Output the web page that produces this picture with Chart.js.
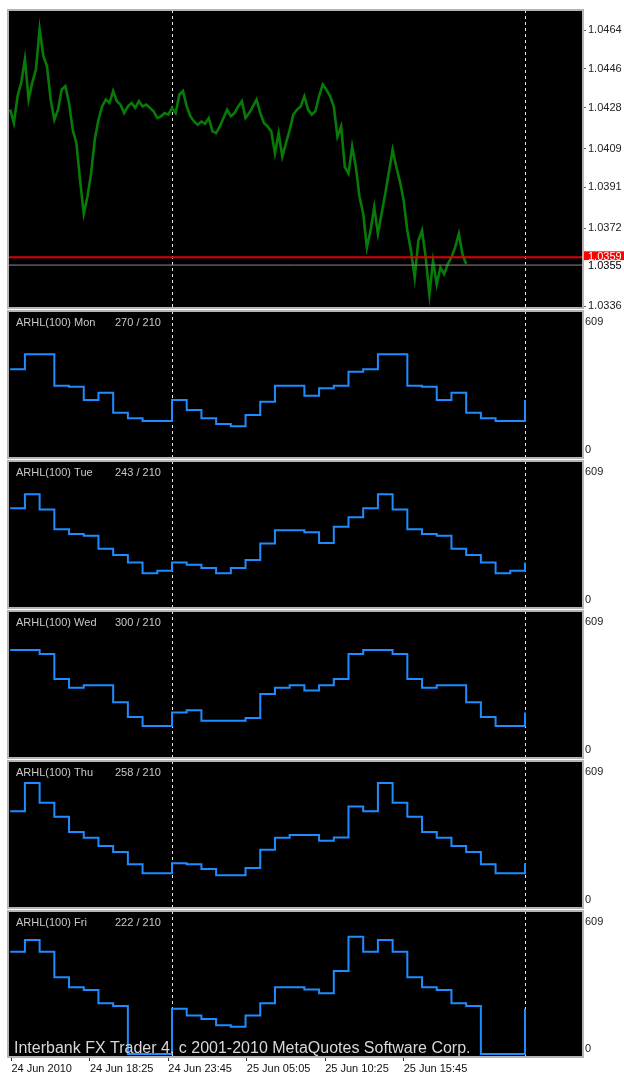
<!DOCTYPE html>
<html>
<head>
<meta charset="utf-8">
<script src="https://cdn.jsdelivr.net/npm/chart.js@4.4.0/dist/chart.umd.min.js"></script>
<style>
  body { margin: 0; background: #fff; }
  #wrap { position: relative; width: 624px; height: 1074px; overflow: hidden; }
  #wrap canvas { position: absolute; left: 0; }
</style>
</head>
<body>
<div id="wrap"></div>
<script>
// ARHL(100) hour-of-day profile for each weekday, hour 0..23
const arhlMon = [238, 194, 159, 134, 124, 173, 230, 299, 299, 256, 288, 299, 360, 370, 435, 435, 299, 295, 238, 269, 183, 159, 147, 147];
const arhlTue = [184, 174, 160, 137, 160, 194, 266, 323, 323, 314, 268, 338, 379, 418, 478, 413, 327, 307, 299, 243, 216, 184, 137, 148];
const arhlWed = [184, 193, 148, 148, 148, 160, 263, 291, 301, 279, 301, 328, 436, 453, 453, 436, 328, 291, 301, 301, 228, 164, 125, 125];
const arhlThu = [180, 176, 155, 128, 128, 160, 239, 291, 302, 302, 278, 292, 425, 405, 527, 442, 381, 315, 291, 255, 229, 176, 137, 137];
const arhlFri = [197, 168, 152, 125, 119, 168, 221, 290, 290, 281, 264, 361, 510, 445, 496, 445, 334, 290, 278, 221, 209, 0, 0, 0];

const dayNames = ['Mon', 'Tue', 'Wed', 'Thu', 'Fri'];
const currentValues = [270, 243, 300, 258, 222];
const levelValue = 210;
const arhlMax = 609;
const subTickLabels = ['609', '0'];

// price, one reading every 15 minutes from 24 Jun 13:00
const priceStartHour = 13;
const priceStepHours = 0.25;
const prices = [
  1.04271, 1.04209, 1.04333, 1.04396, 1.04505, 1.04318, 1.04396, 1.04458, 1.04645, 1.04520,
  1.04473, 1.04318, 1.04224, 1.04271, 1.04364, 1.04380, 1.04302, 1.04177, 1.04115, 1.03944,
  1.03788, 1.03866, 1.03975, 1.04131, 1.04224, 1.04286, 1.04318, 1.04302, 1.04357, 1.04310,
  1.04294, 1.04255, 1.04286, 1.04302, 1.04279, 1.04310, 1.04286, 1.04294, 1.04279, 1.04263,
  1.04232, 1.04240, 1.04255, 1.04248, 1.04279, 1.04255, 1.04341, 1.04357, 1.04286, 1.04240,
  1.04216, 1.04201, 1.04216, 1.04206, 1.04232, 1.04170, 1.04162, 1.04193, 1.04232, 1.04271,
  1.04240, 1.04255, 1.04286, 1.04310, 1.04232, 1.04255, 1.04286, 1.04318, 1.04255, 1.04209,
  1.04193, 1.04170, 1.04068, 1.04162, 1.04053, 1.04115, 1.04177, 1.04248, 1.04271, 1.04286,
  1.04333, 1.04271, 1.04248, 1.04263, 1.04333, 1.04388, 1.04364, 1.04333, 1.04286, 1.04146,
  1.04193, 1.04006, 1.03975, 1.04100, 1.04006, 1.03866, 1.03788, 1.03632, 1.03710, 1.03819,
  1.03695, 1.03788, 1.03882, 1.03983, 1.04084, 1.04006, 1.03936, 1.03850, 1.03710, 1.03617,
  1.03492, 1.03664, 1.03710, 1.03586, 1.03414, 1.03570, 1.03461, 1.03539, 1.03508, 1.03555,
  1.03586, 1.03632, 1.03695, 1.03601, 1.03555
];
const priceTicks = [1.0464, 1.0446, 1.0428, 1.0409, 1.0391, 1.0372, 1.0336];
const priceMin = 1.03351, priceMax = 1.04733;
const askLine = 1.03586, bidLine = 1.0355;
const askLabel = '1.0359', bidLabel = '1.0355';

// time axis, hours counted from 24 Jun 00:00
const xMin = 12.85, xMax = 51.944;
const firstHour = 13, lastHour = 48;
const daySeparators = [24, 48];
const timeTicks = [13.0833, 18.4167, 23.75, 29.0833, 34.4167, 39.75];
const timeLabels = ['24 Jun 2010', '24 Jun 18:25', '24 Jun 23:45', '25 Jun 05:05', '25 Jun 10:25', '25 Jun 15:45'];

const watermark = 'Interbank FX Trader 4, c 2001-2010 MetaQuotes Software Corp.';

const FONT = '"Liberation Sans", Arial, sans-serif';
const axisFont = { family: FONT, size: 11 };

// black plot area, frame and dashed day separators
const panelPlugin = {
  id: 'panel',
  beforeDraw(chart) {
    const a = chart.chartArea, ctx = chart.ctx;
    ctx.save();
    ctx.fillStyle = '#000';
    ctx.fillRect(a.left, a.top, a.right - a.left, a.bottom - a.top);
    ctx.restore();
  },
  beforeDatasetsDraw(chart) {
    const a = chart.chartArea, ctx = chart.ctx, xs = chart.scales.x;
    ctx.save();
    ctx.strokeStyle = '#e8e8e8';
    ctx.lineWidth = 1;
    ctx.setLineDash([3, 3]);
    daySeparators.forEach(h => {
      const px = Math.round(xs.getPixelForValue(h)) + 0.5;
      ctx.beginPath();
      ctx.moveTo(px, a.top);
      ctx.lineTo(px, a.bottom);
      ctx.stroke();
    });
    ctx.restore();
  },
  afterDraw(chart) {
    const a = chart.chartArea, ctx = chart.ctx;
    const o = chart.options.plugins.panel || {};
    ctx.save();
    if (o.title) {
      ctx.font = '11px ' + FONT;
      ctx.fillStyle = '#c8c8c8';
      ctx.textBaseline = 'middle';
      ctx.fillText(o.title, 16, a.top + 12);
      ctx.fillText(o.value, 115, a.top + 12);
    }
    if (o.watermark) {
      ctx.font = '16px ' + FONT;
      ctx.fillStyle = '#d8d8d8';
      ctx.textBaseline = 'alphabetic';
      ctx.fillText(o.watermark, 14, a.bottom - 4);
    }
    if (o.priceLabels) {
      const ys = chart.scales.y;
      ctx.font = '11px ' + FONT;
      ctx.textBaseline = 'middle';
      let py = ys.getPixelForValue(askLine);
      ctx.fillStyle = '#ff0000';
      ctx.fillRect(a.right + 1, py - 6, 41, 11);
      ctx.fillStyle = '#fff';
      ctx.fillText(askLabel, a.right + 5, py);
      py = ys.getPixelForValue(bidLine);
      ctx.fillStyle = '#fff';
      ctx.fillRect(a.right + 1, py - 5, 41, 12);
      ctx.fillStyle = '#000';
      ctx.fillText(bidLabel, a.right + 5, py + 1);
    }
    ctx.strokeStyle = '#b4b4b4';
    ctx.lineWidth = 2;
    ctx.setLineDash([]);
    ctx.strokeRect(a.left, a.top, a.right - a.left, a.bottom - a.top);
    ctx.restore();
  }
};

const makeCanvas = (top, height) => {
  const c = document.createElement('canvas');
  c.width = 624;
  c.height = height;
  c.style.top = top + 'px';
  document.getElementById('wrap').appendChild(c);
  return c;
};

const hiddenX = { type: 'linear', min: xMin, max: xMax, display: false };

// main price panel
const mainCanvas = makeCanvas(0, 318);
new Chart(mainCanvas, {
  type: 'line',
  plugins: [panelPlugin],
  data: {
    datasets: [
      { data: [{ x: xMin, y: askLine }, { x: xMax, y: askLine }], borderColor: '#e00000', borderWidth: 2, pointRadius: 0 },
      { data: [{ x: xMin, y: bidLine }, { x: xMax, y: bidLine }], borderColor: '#8a8a8a', borderWidth: 1, pointRadius: 0 },
      {
        data: prices.map((p, i) => ({ x: priceStartHour + i * priceStepHours, y: p })),
        borderColor: '#077a07', borderWidth: 2.6, pointRadius: 0, tension: 0
      }
    ]
  },
  options: {
    responsive: false, animation: false, devicePixelRatio: 1,
    layout: { padding: { left: 8, top: 10, bottom: 10, right: 0 } },
    plugins: { legend: { display: false }, tooltip: { enabled: false }, panel: { priceLabels: true } },
    scales: {
      x: hiddenX,
      y: {
        position: 'right', min: priceMin, max: priceMax,
        afterBuildTicks: s => { s.ticks = priceTicks.map(v => ({ value: v })); },
        afterFit: s => { s.width = 41; },
        ticks: { callback: v => v.toFixed(4), color: '#222', font: axisFont, padding: 2, autoSkip: false },
        grid: { drawOnChartArea: false, tickLength: 3, color: '#666' },
        border: { display: false }
      }
    }
  }
});

// ARHL sub panels
const panels = [
  { top: 311, bottom: 458, data: arhlMon },
  { top: 461, bottom: 608, data: arhlTue },
  { top: 611, bottom: 758, data: arhlWed },
  { top: 761, bottom: 908, data: arhlThu },
  { top: 911, bottom: 1057, data: arhlFri }
];

panels.forEach((p, k) => {
  const last = k === panels.length - 1;
  const h = p.bottom - p.top;
  const ppu = (h - 6) / arhlMax;
  const yMin = -3 / ppu, yMax = arhlMax + 3 / ppu;
  const canvasTop = p.top - 10;
  const canvasH = last ? 1074 - canvasTop : h + 20;
  const pts = [];
  for (let t = firstHour; t <= lastHour; t++) pts.push({ x: t, y: p.data[t % 24] });

  const xScale = last ? {
    type: 'linear', min: xMin, max: xMax, position: 'bottom',
    afterBuildTicks: s => { s.ticks = timeTicks.map(v => ({ value: v })); },
    afterFit: s => { s.height = 17; },
    ticks: { callback: (v, i) => timeLabels[i], align: 'start', maxRotation: 0, autoSkip: false, padding: 1, color: '#111', font: axisFont },
    grid: { drawOnChartArea: false, tickLength: 4, color: '#333' },
    border: { display: false }
  } : hiddenX;

  new Chart(makeCanvas(canvasTop, canvasH), {
    type: 'line',
    plugins: [panelPlugin],
    data: {
      datasets: [{ data: pts, stepped: 'before', borderColor: '#1e8cff', borderWidth: 2, pointRadius: 0 }]
    },
    options: {
      responsive: false, animation: false, devicePixelRatio: 1,
      layout: { padding: { left: 8, top: 10, bottom: last ? 0 : 10, right: 0 } },
      plugins: {
        legend: { display: false }, tooltip: { enabled: false },
        panel: { title: 'ARHL(100) ' + dayNames[k], value: currentValues[k] + ' / ' + levelValue, watermark: last ? watermark : null }
      },
      scales: {
        x: xScale,
        y: {
          position: 'right', min: yMin, max: yMax,
          afterBuildTicks: s => { s.ticks = [{ value: yMax - 11 / ppu }, { value: yMin + 8 / ppu }]; },
          afterFit: s => { s.width = 41; },
          ticks: { callback: (v, i) => subTickLabels[i], color: '#222', font: axisFont, padding: 2, autoSkip: false },
          grid: { drawOnChartArea: false, drawTicks: false, tickLength: 3 },
          border: { display: false }
        }
      }
    }
  });
});
</script>
</body>
</html>
